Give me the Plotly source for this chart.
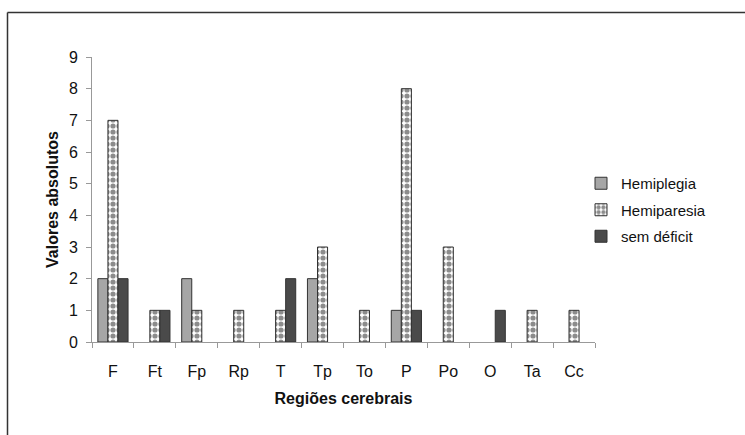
import plotly.graph_objects as go

categories = ["F", "Ft", "Fp", "Rp", "T", "Tp", "To", "P", "Po", "O", "Ta", "Cc"]
hemiplegia = [2, 0, 2, 0, 0, 2, 0, 1, 0, 0, 0, 0]
hemiparesia = [7, 1, 1, 1, 1, 3, 1, 8, 3, 0, 1, 1]
sem_deficit = [2, 1, 0, 0, 2, 0, 0, 1, 0, 1, 0, 0]
y_ticks = list(range(0, 10))

W, H = 745, 435
L, R, T, B = 92, 150, 57, 93
pw = W - L - R
ph = H - T - B


def px_x(x):
    return (x - L) / pw


def px_y(y):
    return (H - B - y) / ph


font = "Liberation Sans, Arial, sans-serif"


def outline(values):
    return dict(color="#333333", width=[1 if v > 0 else 0 for v in values])


fig = go.Figure()
fig.add_trace(go.Bar(name="Hemiplegia", x=categories, y=hemiplegia,
                     marker=dict(color="#a6a6a6", line=outline(hemiplegia)), legendgroup="a"))
fig.add_trace(go.Bar(name="Hemiparesia", x=categories, y=hemiparesia,
                     marker=dict(color="white", line=outline(hemiparesia),
                                 pattern=dict(shape=".", fgcolor="#1a1a1a", bgcolor="white",
                                              size=6, solidity=0.6)), legendgroup="b"))
fig.add_trace(go.Bar(name="sem déficit", x=categories, y=sem_deficit,
                     marker=dict(color="#4a4a4a", line=outline(sem_deficit)), legendgroup="c"))

fig.update_layout(
    width=W, height=H,
    margin=dict(l=L, r=R, t=T, b=B, autoexpand=False),
    paper_bgcolor="white", plot_bgcolor="white",
    barmode="group", bargap=0.28, bargroupgap=0,
    font=dict(family=font, color="#111111"),
    showlegend=True,
    legend=dict(x=px_x(581), y=px_y(210), xanchor="left", yanchor="middle",
                font=dict(size=15, family=font), tracegroupgap=4,
                bgcolor="rgba(0,0,0,0)", itemwidth=30),
    xaxis=dict(
        type="category", showgrid=False, showline=True, linecolor="#999999", linewidth=1,
        ticks="outside", tickson="boundaries", ticklen=5, tickcolor="#999999",
        tickfont=dict(size=16, family=font), range=[-0.5, 11.5], ticklabelstandoff=15,
        title=dict(text="<b>Regiões cerebrais</b>", font=dict(size=16, family=font), standoff=13),
        zeroline=False,
    ),
    yaxis=dict(
        range=[0, 9], tickvals=y_ticks, showgrid=False, showline=True,
        linecolor="#999999", linewidth=1, ticks="outside", ticklen=5, tickcolor="#999999",
        tickfont=dict(size=16, family=font), zeroline=False, ticklabelstandoff=5,
        title=dict(text="<b>Valores absolutos</b>", font=dict(size=16, family=font), standoff=6),
    ),
    shapes=[
        dict(type="line", xref="paper", yref="paper", x0=px_x(7.5), x1=px_x(760),
             y0=px_y(12.5), y1=px_y(12.5), line=dict(color="#333333", width=1.5)),
        dict(type="line", xref="paper", yref="paper", x0=px_x(7.5), x1=px_x(7.5),
             y0=px_y(12.5), y1=px_y(450), line=dict(color="#333333", width=1.5)),
    ],
)

fig.write_html("out.html", post_script="document.body.style.margin='0';",
               config={"displayModeBar": False})
